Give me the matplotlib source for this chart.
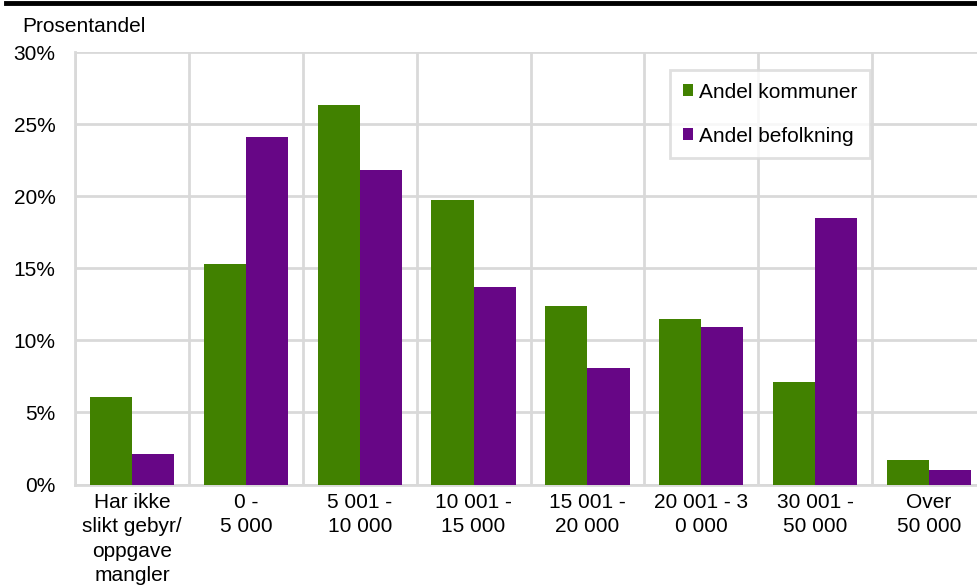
import matplotlib
matplotlib.use("Agg")
import matplotlib.pyplot as plt
import numpy as np
from matplotlib.lines import Line2D

plt.rcParams['font.family'] = ['Liberation Sans', 'DejaVu Sans']

categories = [
    "Har ikke\nslikt gebyr/\noppgave\nmangler",
    "0 -\n5 000",
    "5 001 -\n10 000",
    "10 001 -\n15 000",
    "15 001 -\n20 000",
    "20 001 - 3\n0 000",
    "30 001 -\n50 000",
    "Over\n50 000",
]
andel_kommuner = [6.1, 15.3, 26.3, 19.7, 12.4, 11.5, 7.1, 1.7]
andel_befolkning = [2.1, 24.1, 21.8, 13.7, 8.1, 10.9, 18.5, 1.0]
series_names = ["Andel kommuner", "Andel befolkning"]
yticks = [0, 5, 10, 15, 20, 25, 30]

GREEN = "#418100"
PURPLE = "#670686"
GRID = "#d9d9d9"
FS = 15

W, H = 977, 585
fig = plt.figure(figsize=(W / 100, H / 100), dpi=100)

left, right = 75, 986
bottom, top = 484.5, 52
ax = fig.add_axes([left / W, 1 - bottom / H, (right - left) / W, (bottom - top) / H])

n = len(categories)
x = np.arange(n)
bw = 0.37
ax.bar(x - bw / 2, andel_kommuner, width=bw, color=GREEN, zorder=3, label=series_names[0])
ax.bar(x + bw / 2, andel_befolkning, width=bw, color=PURPLE, zorder=3, label=series_names[1])

ax.set_xlim(-0.5, n - 0.5)
ax.set_ylim(0, 30)
ax.set_yticks(yticks)
ax.set_yticklabels([f"{v}%" for v in yticks], fontsize=FS)
ax.set_xticks(x)
ax.set_xticklabels(categories, fontsize=FS, linespacing=1.36, va="top")

ax.set_xticks(np.arange(n + 1) - 0.5, minor=True)
ax.grid(which="major", axis="y", color=GRID, linewidth=2, zorder=0)
ax.grid(which="minor", axis="x", color=GRID, linewidth=2, zorder=0)
ax.tick_params(which="both", length=0)
ax.tick_params(axis="y", pad=14)
ax.tick_params(axis="x", pad=6)
for s in ["top", "right"]:
    ax.spines[s].set_visible(False)
for s in ["left", "bottom"]:
    ax.spines[s].set_color(GRID)
    ax.spines[s].set_linewidth(2)

leg = ax.legend(loc="upper left", bbox_to_anchor=((670 - left) / (right - left), 1 - (70 - top) / (bottom - top)),
                fontsize=FS, frameon=True, fancybox=False, handlelength=0.5, handleheight=0.5,
                handletextpad=0.3, labelspacing=1.2, borderpad=0.6, borderaxespad=0)
leg.get_frame().set_edgecolor(GRID)
leg.get_frame().set_linewidth(2)
leg.set_zorder(5)

fig.text(22 / W, 1 - 27 / H, "Prosentandel", fontsize=FS, va="center", ha="left")

fig.add_artist(Line2D([6 / W, 1], [1 - 2.5 / H, 1 - 2.5 / H], color="black", linewidth=3.5,
                      transform=fig.transFigure))

fig.savefig("out.png", dpi=100)
